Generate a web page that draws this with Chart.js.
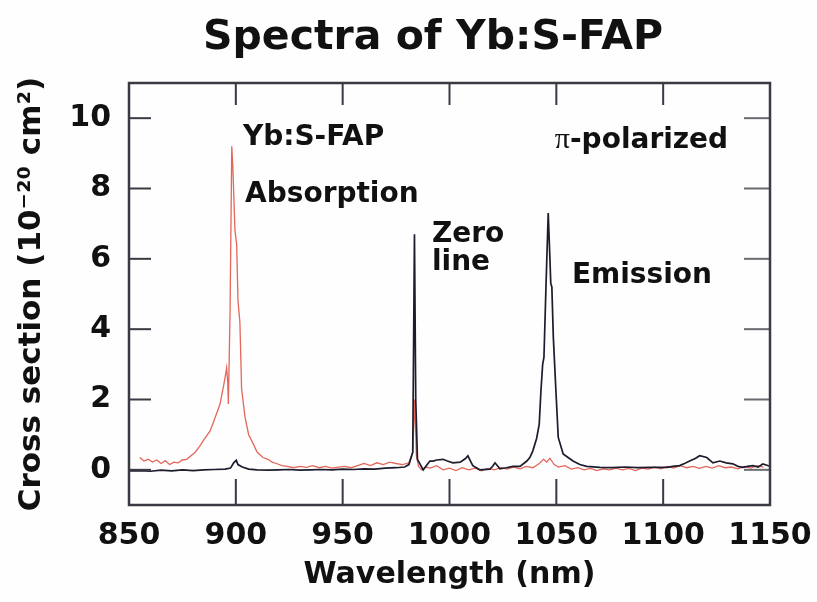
<!DOCTYPE html>
<html>
<head>
<meta charset="utf-8">
<script src="https://cdn.jsdelivr.net/npm/chart.js@4.4.1/dist/chart.umd.min.js"></script>
<style>
  html, body { margin:0; padding:0; background:#fefefe; }
  #c { display:block; }
</style>
</head>
<body>
<canvas id="c" width="817" height="602"></canvas>
<script>
// axis ticks
const xTicks = [850, 900, 950, 1000, 1050, 1100, 1150];
const yTicks = [0, 2, 4, 6, 8, 10];

// absorption (red) - wavelength nm / cross section 1e-20 cm2
const absWl = [855, 857, 859, 861, 863, 865, 867, 869, 871, 873, 875, 877, 879, 881, 883.2, 885, 887.9, 889.5, 891, 892.6, 894, 894.9, 895.7, 896.2, 896.5, 897.3, 898.1, 898.6, 899.6, 900.4, 901, 901.9, 902.7, 904.3, 906, 908.2, 910, 912.7, 915, 917, 919, 921.5, 924, 927, 930, 933, 936, 939, 942, 945, 948, 951, 954, 957, 960, 963, 966, 969, 972, 975, 978, 981, 982.8, 983.7, 984.5, 985.5, 987, 989, 991, 994, 997, 1000, 1003, 1006, 1009, 1012, 1015, 1018, 1021, 1024, 1027, 1030, 1033, 1036, 1039, 1042, 1044, 1045.5, 1047, 1049, 1051, 1054, 1057, 1060, 1063, 1066, 1069, 1072, 1075, 1078, 1081, 1084, 1087, 1090, 1093, 1096, 1099, 1102, 1105, 1108, 1111, 1114, 1117, 1120, 1123, 1126, 1129, 1132, 1135, 1138, 1141, 1144, 1147];
const absVal = [0.35, 0.25, 0.3, 0.22, 0.28, 0.18, 0.26, 0.15, 0.22, 0.2, 0.28, 0.3, 0.4, 0.5, 0.68, 0.85, 1.1, 1.35, 1.6, 1.87, 2.3, 2.6, 2.9, 2.5, 1.87, 4.5, 9.2, 8.6, 6.8, 6.4, 4.8, 4.2, 2.3, 1.5, 1.0, 0.73, 0.5, 0.35, 0.3, 0.22, 0.18, 0.12, 0.1, 0.06, 0.1, 0.07, 0.12, 0.06, 0.1, 0.05, 0.08, 0.1, 0.06, 0.12, 0.18, 0.12, 0.2, 0.15, 0.22, 0.18, 0.15, 0.2, 0.5, 2.0, 0.4, 0.1, 0.0, 0.08, 0.05, 0.12, 0.0, 0.05, -0.02, 0.06, 0.0, 0.05, -0.03, 0.04, 0.0, 0.06, 0.02, 0.08, 0.03, 0.1, 0.06, 0.18, 0.3, 0.22, 0.33, 0.15, 0.08, 0.12, 0.02, 0.06, 0.0, 0.04, -0.02, 0.03, 0.0, 0.05, 0.0, 0.04, -0.02, 0.05, 0.02, 0.08, 0.03, 0.1, 0.05, 0.12, 0.06, 0.1, 0.04, 0.1, 0.05, 0.12, 0.06, 0.08, 0.03, 0.1, 0.05, 0.12, 0.08];

// emission (black)
const emWl = [850, 855, 860, 865, 870, 875, 880, 885, 890, 895, 897.5, 899, 900.2, 901, 903, 906, 910, 915, 920, 925, 930, 935, 940, 945, 950, 955, 960, 965, 970, 975, 979, 981, 982.8, 983.6, 984.2, 985, 987.7, 990.8, 992.3, 994, 997, 999, 1001.6, 1005, 1007.5, 1008.6, 1010.9, 1014.2, 1018.9, 1020.2, 1021.3, 1023.6, 1026.5, 1029.7, 1033, 1036.2, 1037.6, 1039, 1040.8, 1042, 1042.8, 1043.6, 1044.2, 1045.1, 1046.2, 1047, 1047.4, 1047.9, 1048.6, 1049.8, 1050.9, 1053.2, 1055.5, 1057.8, 1061, 1064.2, 1070.4, 1076, 1082, 1088, 1094, 1101.8, 1104.5, 1107.7, 1110, 1112.4, 1115, 1117.1, 1120.4, 1123.3, 1126.5, 1129.5, 1132.6, 1135, 1137.3, 1139.5, 1142, 1144.5, 1146.7, 1150];
const emVal = [-0.03, -0.02, -0.04, -0.01, -0.03, 0.0, -0.02, 0.0, 0.01, 0.02, 0.05, 0.2, 0.27, 0.15, 0.08, 0.02, 0.0, -0.01, 0.0, 0.01, -0.01, 0.0, 0.01, 0.0, 0.02, 0.01, 0.03, 0.02, 0.05, 0.06, 0.08, 0.15, 0.5, 6.7, 2.0, 0.3, 0.0, 0.25, 0.25, 0.28, 0.3, 0.25, 0.2, 0.22, 0.32, 0.4, 0.12, 0.0, 0.02, 0.1, 0.2, 0.03, 0.06, 0.1, 0.1, 0.25, 0.35, 0.54, 0.9, 1.3, 2.25, 3.0, 3.2, 5.1, 7.3, 6.0, 5.3, 5.2, 3.76, 2.25, 0.92, 0.45, 0.35, 0.25, 0.15, 0.1, 0.07, 0.06, 0.08, 0.06, 0.07, 0.07, 0.1, 0.12, 0.18, 0.25, 0.32, 0.4, 0.35, 0.2, 0.25, 0.2, 0.17, 0.1, 0.07, 0.1, 0.12, 0.08, 0.17, 0.1];

const FONT = '"DejaVu Sans", "Liberation Sans", sans-serif';

function pts(xs, ys) { return xs.map(function(x, i) { return { x: x, y: ys[i] }; }); }

// frame + inward tick marks on all four sides
const frameTicks = {
  id: 'frameTicks',
  afterDatasetsDraw(chart) {
    const ctx = chart.ctx, a = chart.chartArea;
    const xs = chart.scales.x, ys = chart.scales.y;
    ctx.save();
    ctx.strokeStyle = '#3a3a44';
    ctx.lineWidth = 2;
    xTicks.forEach(function(v) {
      const px = xs.getPixelForValue(v);
      ctx.beginPath();
      ctx.moveTo(px, a.bottom); ctx.lineTo(px, a.bottom - 26);
      ctx.moveTo(px, a.top); ctx.lineTo(px, a.top + 22);
      ctx.stroke();
    });
    yTicks.forEach(function(v) {
      const py = ys.getPixelForValue(v);
      ctx.beginPath();
      ctx.moveTo(a.left, py); ctx.lineTo(a.left + 22, py);
      ctx.stroke();
      ctx.strokeStyle = '#6a6a70';
      ctx.beginPath();
      ctx.moveTo(a.right, py); ctx.lineTo(a.right - 26, py);
      ctx.stroke();
      ctx.strokeStyle = '#3a3a44';
    });
    ctx.lineWidth = 2.5;
    ctx.strokeRect(a.left, a.top, a.right - a.left, a.bottom - a.top);
    ctx.restore();
  }
};

// title and in-plot notes
const notes = {
  id: 'notes',
  afterDraw(chart) {
    const ctx = chart.ctx;
    const xs = chart.scales.x, ys = chart.scales.y;
    ctx.save();
    ctx.fillStyle = '#111';
    ctx.textBaseline = 'alphabetic';
    ctx.textAlign = 'center';
    ctx.font = 'bold 41px ' + FONT;
    ctx.fillText('Spectra of Yb:S-FAP', 433, 49);

    ctx.textAlign = 'left';
    ctx.font = 'bold 28px ' + FONT;
    function put(t, nm, v) { ctx.fillText(t, xs.getPixelForValue(nm), ys.getPixelForValue(v)); }
    put('Yb:S-FAP', 903.3, 9.24);
    put('Absorption', 904.3, 7.61);
    put('Zero', 991.8, 6.48);
    put('line', 991.8, 5.68);
    put('Emission', 1057.3, 5.31);
    // pi in serif, rest in sans
    let px = xs.getPixelForValue(1049.3), py = ys.getPixelForValue(9.15);
    ctx.font = '30px "Liberation Serif", serif';
    ctx.fillText('\u03c0', px, py);
    px += ctx.measureText('\u03c0').width;
    ctx.font = 'bold 28px ' + FONT;
    ctx.fillText('-polarized', px, py);
    ctx.restore();
  }
};

new Chart(document.getElementById('c'), {
  type: 'line',
  data: {
    datasets: [
      { label: 'Absorption', data: pts(absWl, absVal), borderColor: '#e4675b', borderWidth: 1.3, pointRadius: 0, tension: 0, order: 1 },
      { label: 'Emission', data: pts(emWl, emVal), borderColor: '#1c1c2c', borderWidth: 1.7, pointRadius: 0, tension: 0, order: 0 }
    ]
  },
  options: {
    responsive: false,
    animation: false,
    devicePixelRatio: 1,
    layout: { padding: { top: 83, right: 47, left: 0, bottom: 0 } },
    plugins: { legend: { display: false }, tooltip: { enabled: false }, title: { display: false } },
    scales: {
      x: {
        type: 'linear', min: 850, max: 1150,
        afterBuildTicks: function(s) { s.ticks = xTicks.map(function(v) { return { value: v }; }); },
        afterFit: function(s) { s.height = 97; s.paddingLeft = 0; s.paddingRight = 0; },
        grid: { display: false, drawTicks: false },
        border: { display: false },
        ticks: { autoSkip: false, maxRotation: 0, padding: 13, color: '#111', font: { family: FONT, size: 30, weight: 'bold' },
          callback: function(v) { return String(v); } },
        title: { display: true, text: 'Wavelength (nm)', color: '#111', padding: { top: 0, bottom: 9 }, font: { family: FONT, size: 30, weight: 'bold' } }
      },
      y: {
        type: 'linear', min: -1, max: 11,
        afterBuildTicks: function(s) { s.ticks = yTicks.map(function(v) { return { value: v }; }); },
        afterFit: function(s) { s.width = 129; s.paddingTop = 0; s.paddingBottom = 0; },
        grid: { display: false, drawTicks: false },
        border: { display: false },
        ticks: { autoSkip: false, padding: 18, color: '#111', font: { family: FONT, size: 30, weight: 'bold' },
          callback: function(v) { return String(v); } },
        title: { display: true, text: 'Cross section (10\u207b\u00b2\u2070 cm\u00b2)', color: '#111', padding: { top: 13, bottom: 0 }, font: { family: FONT, size: 31, weight: 'bold' } }
      }
    }
  },
  plugins: [frameTicks, notes]
});
</script>
</body>
</html>
